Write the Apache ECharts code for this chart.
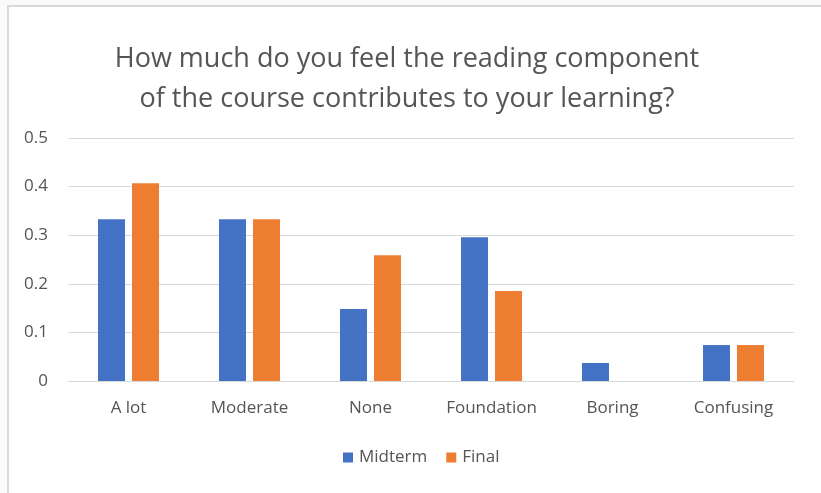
<!DOCTYPE html>
<html><head><meta charset="utf-8">
<script src="https://cdn.jsdelivr.net/npm/echarts@6/dist/echarts.min.js"></script>
<style>
html,body{margin:0;padding:0;background:#fafafa;}
#wrap{position:absolute;left:7px;top:5px;width:830px;height:500px;border:2px solid #d9d9d9;background:#fff;}
#c{position:absolute;left:0;top:0;width:821px;height:493px;}
</style></head>
<body>
<div id="wrap"></div>
<div id="c"></div>
<script>
const categories = ['A lot','Moderate','None','Foundation','Boring','Confusing'];
const midterm = [0.333, 0.333, 0.148, 0.296, 0.037, 0.074];
const finalVals = [0.407, 0.333, 0.259, 0.185, 0, 0.074];
const titleLines = ['How much do you feel the reading component','of the course contributes to your learning?'];
const FONT = '"Open Sans", "Noto Sans", sans-serif';
const chart = echarts.init(document.getElementById('c'), null, {renderer:'canvas'});
chart.setOption({
  animation:false,
  title:{text:titleLines.join('\n'), left:402, textAlign:'center', top:34,
    textStyle:{fontFamily:FONT, fontSize:27, fontWeight:'normal', color:'#555555', lineHeight:40}},
  legend:{data:['Midterm','Final'], bottom:22, left:338, itemWidth:10, itemHeight:10, itemGap:19,
    icon:'rect', textStyle:{fontFamily:FONT, fontSize:17, color:'#555555', padding:[0,0,0,1]}},
  grid:{left:68, right:27, top:138, bottom:112, containLabel:false},
  xAxis:{type:'category', data:categories,
    axisLine:{lineStyle:{color:'#d9d9d9', width:1}}, axisTick:{show:false},
    axisLabel:{fontFamily:FONT, fontSize:17, color:'#555555', margin:19}},
  yAxis:{type:'value', min:0, max:0.5, interval:0.1,
    axisLine:{show:false}, axisTick:{show:false},
    splitLine:{lineStyle:{color:'#d9d9d9', width:1}},
    axisLabel:{fontFamily:FONT, fontSize:17, color:'#555555', margin:20, formatter:v=>String(Math.round(v*10)/10)}},
  series:[
    {name:'Midterm', type:'bar', data:midterm, barWidth:27, barGap:'26%', itemStyle:{color:'#4472c4'}},
    {name:'Final', type:'bar', data:finalVals, barWidth:27, barGap:'26%', itemStyle:{color:'#ed7d31'}}
  ]
});
</script>
</body></html>
